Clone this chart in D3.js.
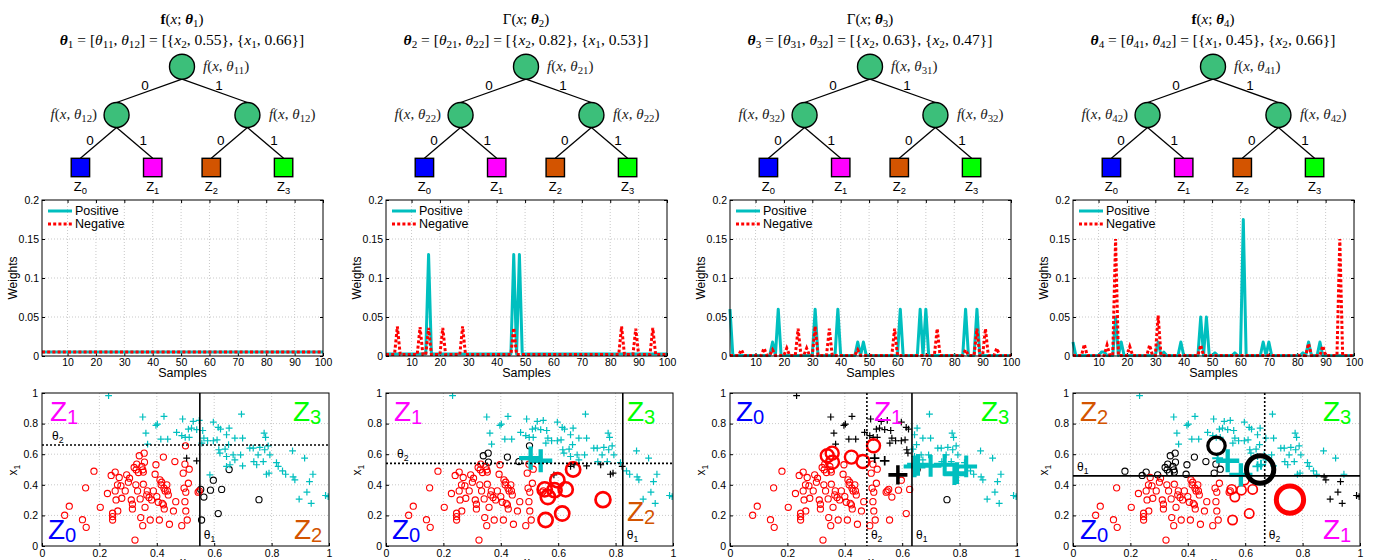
<!DOCTYPE html>
<html>
<head>
<meta charset="utf-8">
<script src="https://cdn.jsdelivr.net/npm/d3@7"></script>
<style>
  body { margin: 0; background: #fff; }
  svg { display: block; }
</style>
</head>
<body>
<script>
// ---- data ----

// tree / titles
const titleHead = ["f", "Γ", "Γ", "f"];
const splitFeat = [["2", "1"], ["2", "1"], ["2", "2"], ["1", "2"]];
const splitVal = [["0.55", "0.66"], ["0.82", "0.53"], ["0.63", "0.47"], ["0.45", "0.66"]];
const leafNames = ["0", "1", "2", "3"];
const leafColors = ["#0000ff", "#ff00ff", "#d35400", "#00ff00"];
const edgeNames = ["0", "1"];

// weights plots
const sampleTicks = [10, 20, 30, 40, 50, 60, 70, 80, 90, 100];
const weightTicks = [0, 0.05, 0.1, 0.15, 0.2];
const weightTickLabels = ["0", "0.05", "0.1", "0.15", "0.2"];
const legendNames = ["Positive", "Negative"];

const posW1 = [
  .005,.005,.005,.005,.005,.005,.005,.005,.005,.005,
  .005,.005,.005,.005,.005,.005,.005,.005,.005,.005,
  .005,.005,.005,.005,.005,.005,.005,.005,.005,.005,
  .005,.005,.005,.005,.005,.005,.005,.005,.005,.005,
  .005,.005,.005,.005,.005,.005,.005,.005,.005,.005,
  .005,.005,.005,.005,.005,.005,.005,.005,.005,.005,
  .005,.005,.005,.005,.005,.005,.005,.005,.005,.005,
  .005,.005,.005,.005,.005,.005,.005,.005,.005,.005,
  .005,.005,.005,.005,.005,.005,.005,.005,.005,.005,
  .005,.005,.005,.005,.005,.005,.005,.005,.005,.005];
const negW1 = [
  .005,.005,.005,.005,.005,.005,.005,.005,.005,.005,
  .005,.005,.005,.005,.005,.005,.005,.005,.005,.005,
  .005,.005,.005,.005,.005,.005,.005,.005,.005,.005,
  .005,.005,.005,.005,.005,.005,.005,.005,.005,.005,
  .005,.005,.005,.005,.005,.005,.005,.005,.005,.005,
  .005,.005,.005,.005,.005,.005,.005,.005,.005,.005,
  .005,.005,.005,.005,.005,.005,.005,.005,.005,.005,
  .005,.005,.005,.005,.005,.005,.005,.005,.005,.005,
  .005,.005,.005,.005,.005,.005,.005,.005,.005,.005,
  .005,.005,.005,.005,.005,.005,.005,.005,.005,.005];

const posW2 = [
  .0025,.0025,.0025,.0025,.0025,.0025,.0025,.0025,.0025,.0025,
  .0025,.0025,.0025,.0025,.0025,.13,.0025,.0025,.0025,.0025,
  .0025,.0025,.0025,.0025,.0025,.0025,.0025,.0025,.0025,.0025,
  .0025,.0025,.0025,.0025,.0025,.0025,.0025,.0025,.0025,.0025,
  .0025,.0025,.0025,.0025,.0025,.13,.0025,.13,.0025,.0025,
  .0025,.0025,.0025,.0025,.0025,.0025,.0025,.0025,.0025,.0025,
  .0025,.0025,.0025,.0025,.0025,.0025,.0025,.0025,.0025,.0025,
  .0025,.0025,.0025,.0025,.0025,.0025,.0025,.0025,.0025,.0025,
  .0025,.0025,.0025,.0025,.0025,.0025,.0025,.0025,.0025,.0025,
  .0025,.0025,.0025,.0025,.0025,.0025,.0025,.0025,.0025,.0025];
const negW2 = [
  .0018,.0018,.0018,.0018,.038,.0018,.0018,.0018,.0018,.0018,
  .0018,.0018,.037,.0018,.0018,.036,.0018,.0018,.0018,.0018,
  .036,.0018,.0018,.0018,.0018,.0018,.0018,.038,.0018,.0018,
  .0018,.0018,.0018,.0018,.0018,.0018,.0018,.0018,.0018,.0018,
  .0018,.0018,.0018,.0018,.0018,.036,.0018,.0018,.0018,.0018,
  .0018,.0018,.0018,.0018,.0018,.0018,.0018,.0018,.0018,.0018,
  .0018,.0018,.0018,.0018,.0018,.0018,.0018,.0018,.0018,.0018,
  .0018,.0018,.0018,.0018,.0018,.0018,.0018,.0018,.0018,.0018,
  .0018,.0018,.0018,.038,.0018,.0018,.0018,.0018,.035,.0018,
  .0018,.0018,.0018,.0018,.036,.0018,.0018,.0018,.0018,.0018];

const posW3 = [
  .06,.0008,.0008,.0008,.0008,.0008,.0008,.0008,.0008,.0008,
  .0008,.0008,.0008,.0008,.0008,.018,.0008,.06,.0008,.0008,
  .0008,.0008,.0008,.0008,.0008,.0008,.0008,.0008,.0008,.0008,
  .06,.0008,.0008,.0008,.0008,.0008,.0008,.0008,.06,.0008,
  .0008,.0008,.0008,.0008,.0008,.018,.0008,.018,.0008,.0008,
  .0008,.0008,.0008,.0008,.0008,.0008,.0008,.0008,.0008,.0008,
  .06,.0008,.0008,.0008,.0008,.0008,.0008,.06,.0008,.06,
  .0008,.0008,.0008,.0008,.0008,.0008,.0008,.0008,.0008,.0008,
  .0008,.0008,.0008,.06,.0008,.0008,.0008,.06,.0008,.0008,
  .0008,.0008,.0008,.0008,.0008,.0008,.0008,.0008,.0008,.0008];
const negW3 = [
  .0008,.0008,.0008,.0008,.008,.0008,.0008,.0008,.0008,.0008,
  .0008,.0008,.010,.0008,.0008,.008,.0008,.0008,.0008,.0008,
  .010,.0008,.0008,.0008,.035,.0008,.0008,.010,.0008,.0008,
  .038,.0008,.0008,.0008,.0008,.035,.0008,.0008,.0008,.0008,
  .0008,.0008,.0008,.0008,.0008,.008,.0008,.0008,.0008,.0008,
  .0008,.0008,.0008,.0008,.0008,.0008,.0008,.0008,.035,.0008,
  .0008,.0008,.0008,.0008,.0008,.0008,.0008,.0008,.0008,.0008,
  .0008,.0008,.0008,.035,.0008,.0008,.0008,.0008,.0008,.0008,
  .0008,.0008,.0008,.008,.0008,.0008,.0008,.035,.0008,.0008,
  .035,.0008,.0008,.0008,.010,.0008,.0008,.0008,.0008,.0008];

const posW4 = [
  .018,.0006,.0006,.0006,.0006,.0006,.0006,.0006,.0006,.0006,
  .005,.005,.0006,.0006,.0006,.05,.0006,.018,.0006,.0006,
  .0006,.0006,.0006,.0006,.0006,.0006,.0006,.0006,.0006,.0006,
  .018,.0006,.005,.0006,.0006,.0006,.0006,.0006,.018,.0006,
  .0006,.0006,.0006,.0006,.0006,.05,.0006,.05,.0006,.0006,
  .004,.0006,.0006,.0006,.0006,.0006,.0006,.004,.0006,.0006,
  .175,.0006,.0006,.0006,.0006,.0006,.0006,.018,.0006,.018,
  .0006,.0006,.0006,.0006,.0006,.0006,.0006,.0006,.0006,.0006,
  .0006,.004,.0006,.018,.0006,.0006,.0006,.018,.0006,.0006,
  .0006,.0006,.0006,.0006,.0006,.0006,.0006,.0006,.0006,.0006];
const negW4 = [
  .0008,.0008,.0008,.0008,.015,.0008,.0008,.0008,.0008,.0008,
  .0008,.0008,.014,.0008,.0008,.15,.0008,.0008,.0008,.0008,
  .012,.0008,.0008,.0008,.0008,.0008,.0008,.014,.0008,.0008,
  .052,.0008,.0008,.0008,.0008,.0008,.0008,.0008,.0008,.0008,
  .0008,.0008,.0008,.0008,.0008,.014,.0008,.0008,.0008,.0008,
  .0008,.0008,.0008,.0008,.0008,.0008,.0008,.0008,.0008,.0008,
  .0008,.0008,.0008,.0008,.0008,.0008,.0008,.0008,.0008,.0008,
  .0008,.0008,.0008,.0008,.0008,.0008,.0008,.0008,.0008,.0008,
  .0008,.0008,.0008,.016,.0008,.0008,.0008,.0008,.013,.0008,
  .0008,.0008,.0008,.0008,.15,.0008,.0008,.0008,.0008,.0008];

// scatter: [x2, x1]
const unitTicks = [0, 0.2, 0.4, 0.6, 0.8, 1];
const unitTickLabels = ["0", "0.2", "0.4", "0.6", "0.8", "1"];

const negPts = [
  [0.652,0.500],[0.597,0.430],[0.553,0.370],[0.564,0.320],[0.587,0.365],
  [0.626,0.370],[0.614,0.212],[0.556,0.170],[0.756,0.303],[0.339,0.590],
  [0.356,0.607],[0.357,0.548],[0.423,0.581],[0.463,0.552],[0.500,0.655],
  [0.079,0.201],[0.095,0.260],[0.141,0.172],[0.154,0.122],[0.152,0.380],
  [0.181,0.489],[0.203,0.253],[0.228,0.343],[0.241,0.461],[0.246,0.214],
  [0.246,0.192],[0.246,0.170],[0.255,0.483],[0.255,0.360],[0.258,0.301],
  [0.263,0.400],[0.264,0.229],[0.269,0.448],[0.275,0.393],[0.278,0.312],
  [0.290,0.360],[0.295,0.465],[0.301,0.417],[0.305,0.443],[0.311,0.301],
  [0.315,0.273],[0.315,0.242],[0.321,0.513],[0.324,0.039],[0.327,0.400],
  [0.328,0.498],[0.330,0.535],[0.333,0.360],[0.336,0.480],[0.342,0.308],
  [0.344,0.186],[0.348,0.520],[0.351,0.498],[0.353,0.404],[0.353,0.483],
  [0.351,0.133],[0.359,0.253],[0.365,0.334],[0.367,0.360],[0.373,0.317],
  [0.377,0.170],[0.382,0.301],[0.388,0.360],[0.394,0.469],[0.397,0.531],
  [0.400,0.323],[0.405,0.286],[0.409,0.170],[0.411,0.432],[0.415,0.400],
  [0.417,0.417],[0.419,0.279],[0.425,0.378],[0.429,0.360],[0.423,0.269],
  [0.426,0.242],[0.435,0.400],[0.437,0.360],[0.440,0.334],[0.444,0.142],
  [0.466,0.290],[0.458,0.229],[0.487,0.133],[0.492,0.476],[0.495,0.378],
  [0.498,0.535],[0.498,0.290],[0.501,0.352],[0.501,0.229],[0.506,0.170],
  [0.510,0.410],[0.513,0.502],[0.548,0.360],[0.544,0.352]];

const posPts = [
  [0.504,0.574],[0.539,0.557],[0.585,0.465],[0.643,0.520],[0.655,0.531],
  [0.699,0.524],[0.748,0.531],[0.782,0.469],[0.791,0.476],[0.823,0.520],
  [0.232,0.983],[0.351,0.843],[0.425,0.847],[0.402,0.797],[0.397,0.788],
  [0.362,0.738],[0.368,0.666],[0.414,0.699],[0.438,0.699],[0.469,0.742],
  [0.490,0.830],[0.487,0.721],[0.499,0.710],[0.513,0.710],[0.527,0.814],
  [0.548,0.821],[0.510,0.764],[0.521,0.771],[0.539,0.760],[0.560,0.755],
  [0.564,0.705],[0.557,0.672],[0.577,0.688],[0.597,0.810],[0.614,0.775],
  [0.622,0.764],[0.610,0.694],[0.597,0.688],[0.616,0.629],[0.620,0.607],
  [0.638,0.633],[0.652,0.771],[0.643,0.727],[0.672,0.705],[0.699,0.705],
  [0.695,0.862],[0.650,0.662],[0.666,0.596],[0.672,0.563],[0.692,0.596],
  [0.724,0.640],[0.736,0.640],[0.759,0.644],[0.774,0.738],[0.779,0.710],
  [0.788,0.655],[0.776,0.629],[0.794,0.596],[0.738,0.552],[0.753,0.596],
  [0.771,0.552],[0.817,0.545],[0.838,0.491],[0.849,0.469],[0.873,0.622],
  [0.875,0.452],[0.881,0.432],[0.915,0.574],[0.944,0.469],[0.932,0.421],
  [0.923,0.352],[0.896,0.306],[0.938,0.279],[0.988,0.330],[0.997,0.323],
  [0.643,0.585]];

// split of each stage: root axis/cut, second axis/cut ("x" = x2 horizontal, "y" = x1 vertical)
const rootAxis = ["x", "x", "x", "y"];
const rootCut = [0.55, 0.825, 0.634, 0.4585];
const subAxis = ["y", "y", "x", "x"];
const subCut = [0.66, 0.54, 0.477, 0.668];
const positiveZones = [[1, 2, 3], [1, 2, 3], [3], [2, 3]];

// relative sample weight of emphasised points: [index, weight]
const bigNeg = [
  [],
  [[0,2.3],[1,2.3],[2,2.3],[3,2.3],[4,2.3],[5,2.3],[6,2.3],[7,2.3],[8,2.4]],
  [[9,2.1],[10,2.1],[11,2.1],[12,2.1],[13,2.1],[14,2.1]],
  [[0,4.4],[14,2.8],[8,4.4],[1,1.5],[2,1.5],[3,1.5],[4,1.5],[5,1.5],[6,1.5],[7,1.5]]];
const bigPos = [
  [],
  [[0,3.4],[1,3.4]],
  [[0,1.4],[1,1.4],[2,2.8],[3,3.2],[4,3.2],[5,3.2],[6,3.2],[7,3.2],[8,3.2],[9,3.2]],
  [[0,1.6],[1,3.4],[2,3.4],[3,1.5],[4,1.5]]];

// ---- layout ----
const colX = [0, 344, 688, 1031];
const PL = 42;
const WW = 281, WT = 200, WB = 356;
const SW = 287, ST = 393, SB = 546;
const CYAN = "#00bfbf", RED = "#ff0000";
const serif = '"Liberation Serif","DejaVu Serif",serif';
const sans = '"Liberation Sans",Arial,sans-serif';

// zone labels: [zone, dx from plot left, baseline y]
const zoneLabelPos = [
  [[1, 8, 421], [3, 251, 421], [0, 6, 539], [2, 252, 539]],
  [[1, 8, 421], [3, 241, 421], [0, 6, 539], [2, 241, 521]],
  [[0, 6, 421], [1, 144, 421], [3, 251, 421]],
  [[2, 7, 421], [3, 250, 421], [0, 7, 539], [1, 250, 539]]];
const hLabelDx = [10, 11, 0, 4];

const svg = d3.select("body").append("svg")
  .attr("width", 1374).attr("height", 560);

// text with subscripts: segs = [[string, kind]] kind: "", "i", "b", "bi", "sub"
function rich(sel, segs, shift) {
  let down = false;
  segs.forEach(([s, k]) => {
    const t = sel.append("tspan").text(s);
    if (k === "sub") {
      t.attr("font-size", "0.72em");
      if (!down) t.attr("dy", shift);
      down = true;
    } else {
      if (down) t.attr("dy", -shift);
      down = false;
      if (k.includes("i")) t.attr("font-style", "italic");
      if (k.includes("b")) t.attr("font-weight", "bold");
    }
  });
  return sel;
}

// tree layout, shared by the four columns
const treeData = {children: [{children: [{leaf: 0}, {leaf: 1}]}, {children: [{leaf: 2}, {leaf: 3}]}]};
const hier = d3.hierarchy(treeData);
d3.tree().nodeSize([72.3, 1]).separation((a, b) => a.parent === b.parent ? 1 : 0.81)(hier);
const depthY = [66.7, 115, 167.5];
const NODE_R = 12.5, LEAF = 18.4;

const weightSets = [[posW1, negW1], [posW2, negW2], [posW3, negW3], [posW4, negW4]];

for (let c = 0; c < 4; c++) {
  const n = c + 1;
  const px = colX[c] + PL;

  // ---------- tree ----------
  const g = svg.append("g").attr("transform", `translate(${colX[c] + 182},0)`);

  rich(g.append("text").attr("x", 0).attr("y", 23.5).attr("text-anchor", "middle")
      .attr("font-family", serif).attr("font-size", 15),
    [[titleHead[c], titleHead[c] === "f" ? "b" : ""], ["(", ""], ["x", "i"], ["; ", ""],
     ["θ", "bi"], [String(n), "sub"], [")", ""]], 3);

  rich(g.append("text").attr("x", 0).attr("y", 44.5).attr("text-anchor", "middle")
      .attr("font-family", serif).attr("font-size", 15.5),
    [["θ", "bi"], [String(n), "sub"], [" = [", ""], ["θ", "i"], [n + "1", "sub"], [", ", ""],
     ["θ", "i"], [n + "2", "sub"], ["] = [{", ""], ["x", "i"], [splitFeat[c][0], "sub"],
     [", " + splitVal[c][0] + "}, {", ""], ["x", "i"], [splitFeat[c][1], "sub"],
     [", " + splitVal[c][1] + "}]", ""]], 3);

  const ny = d => depthY[d.depth];
  hier.links().forEach(l => {
    const s = l.source, t = l.target;
    const y1 = ny(s) + NODE_R;
    const y2 = t.children ? ny(t) - NODE_R : ny(t) - LEAF / 2;
    g.append("line").attr("x1", s.x).attr("y1", y1).attr("x2", t.x).attr("y2", y2)
      .attr("stroke", "#000").attr("stroke-width", 1.3);
    const side = t.x < s.x ? -1 : 1;
    const k = s.children.indexOf(t);
    const dx = t.depth === 1 ? 4.3 : 8.5, dy = t.depth === 1 ? -6 : -3;
    g.append("text")
      .attr("x", (s.x + t.x) / 2 + side * dx)
      .attr("y", (y1 + y2) / 2 + dy + 4.8)
      .attr("text-anchor", "middle").attr("font-family", sans).attr("font-size", 13.5)
      .text(edgeNames[k]);
  });

  hier.descendants().filter(d => d.children).forEach(d => {
    g.append("circle").attr("cx", d.x).attr("cy", ny(d)).attr("r", NODE_R)
      .attr("fill", "#3cbf7a").attr("stroke", "#000").attr("stroke-width", 1.4);
    const right = d.depth === 0 || d.x > 0;
    const lbl = g.append("text")
      .attr("x", right ? d.x + (d.depth === 0 ? 21 : 21.5) : d.x - 19.5)
      .attr("y", ny(d) + 4)
      .attr("text-anchor", right ? "start" : "end")
      .attr("font-family", serif).attr("font-size", 15).attr("fill", "#222");
    rich(lbl, [["f", "i"], ["(", ""], ["x", "i"], [", ", ""], ["θ", "i"],
      [n + String(d.depth + 1), "sub"], [")", ""]], 3);
  });

  hier.leaves().forEach(d => {
    g.append("rect").attr("x", d.x - LEAF / 2).attr("y", ny(d) - LEAF / 2)
      .attr("width", LEAF).attr("height", LEAF)
      .attr("fill", leafColors[d.data.leaf]).attr("stroke", "#000").attr("stroke-width", 1.4);
    rich(g.append("text").attr("x", d.x).attr("y", 191).attr("text-anchor", "middle")
        .attr("font-family", sans).attr("font-size", 13),
      [["Z", ""], [leafNames[d.data.leaf], "sub"]], 3);
  });

  // ---------- weights plot ----------
  const xW = d3.scaleLinear().domain([1, 100]).range([px, px + WW]);
  const yW = d3.scaleLinear().domain([0, 0.2]).range([WB, WT]);
  const wg = svg.append("g");

  wg.append("g").selectAll("line").data(sampleTicks.filter(v => v < 100)).join("line")
    .attr("x1", d => xW(d)).attr("x2", d => xW(d)).attr("y1", WT).attr("y2", WB)
    .attr("stroke", "#bbb").attr("stroke-width", 0.8).attr("stroke-dasharray", "1,2");
  wg.append("g").selectAll("line").data(weightTicks.filter(v => v > 0 && v < 0.2)).join("line")
    .attr("x1", px).attr("x2", px + WW).attr("y1", d => yW(d)).attr("y2", d => yW(d))
    .attr("stroke", "#bbb").attr("stroke-width", 0.8).attr("stroke-dasharray", "1,2");

  const ax = (sel) => { sel.select(".domain").remove();
    sel.selectAll("text").attr("font-family", sans).attr("font-size", 10.5).attr("fill", "#000");
    sel.selectAll("line").attr("stroke", "#000"); };

  wg.append("g").attr("transform", `translate(0,${WB})`)
    .call(d3.axisBottom(xW).tickValues(sampleTicks).tickSizeInner(-3).tickSizeOuter(0).tickPadding(3))
    .call(ax);
  wg.append("g").attr("transform", `translate(0,${WT})`)
    .call(d3.axisTop(xW).tickValues(sampleTicks).tickSizeInner(-3).tickSizeOuter(0).tickFormat(""))
    .call(ax);
  wg.append("g").attr("transform", `translate(${px},0)`)
    .call(d3.axisLeft(yW).tickValues(weightTicks).tickFormat((d, i) => weightTickLabels[i])
      .tickSizeInner(-3).tickSizeOuter(0).tickPadding(3))
    .call(ax);
  wg.append("g").attr("transform", `translate(${px + WW},0)`)
    .call(d3.axisRight(yW).tickValues(weightTicks).tickFormat("").tickSizeInner(-3).tickSizeOuter(0))
    .call(ax);

  const line = d3.line().x((d, i) => xW(i + 1)).y(d => yW(d));
  const [pw, nw] = weightSets[c];
  wg.append("path").datum(pw).attr("d", line).attr("fill", "none")
    .attr("stroke", CYAN).attr("stroke-width", 3).attr("stroke-linejoin", "round");
  wg.append("path").datum(nw).attr("d", line).attr("fill", "none")
    .attr("stroke", RED).attr("stroke-width", 3).attr("stroke-dasharray", "3,2.2");

  wg.append("rect").attr("x", px).attr("y", WT).attr("width", WW).attr("height", WB - WT)
    .attr("fill", "none").attr("stroke", "#000").attr("stroke-width", 1);

  // legend
  legendNames.forEach((nm, i) => {
    const ly = 211 + i * 13;
    wg.append("line").attr("x1", px + 6).attr("x2", px + 30).attr("y1", ly).attr("y2", ly)
      .attr("stroke", i ? RED : CYAN).attr("stroke-width", 3)
      .attr("stroke-dasharray", i ? "3,2.2" : null);
    wg.append("text").attr("x", px + 33).attr("y", ly + 4.3)
      .attr("font-family", sans).attr("font-size", 12.5).text(nm);
  });

  wg.append("text").attr("transform", `translate(${colX[c] + 17},278) rotate(-90)`)
    .attr("text-anchor", "middle").attr("font-family", sans).attr("font-size", 12).text("Weights");
  wg.append("text").attr("x", px + WW / 2).attr("y", 377)
    .attr("text-anchor", "middle").attr("font-family", sans).attr("font-size", 12.5).text("Samples");

  // ---------- scatter ----------
  const xS = d3.scaleLinear().domain([0, 1]).range([px, px + SW]);
  const yS = d3.scaleLinear().domain([0, 1]).range([SB, ST]);
  const sg = svg.append("g");

  sg.append("g").selectAll("line").data(unitTicks.slice(1, -1)).join("line")
    .attr("x1", d => xS(d)).attr("x2", d => xS(d)).attr("y1", ST).attr("y2", SB)
    .attr("stroke", "#bbb").attr("stroke-width", 0.8).attr("stroke-dasharray", "1,2");
  sg.append("g").selectAll("line").data(unitTicks.slice(1, -1)).join("line")
    .attr("x1", px).attr("x2", px + SW).attr("y1", d => yS(d)).attr("y2", d => yS(d))
    .attr("stroke", "#bbb").attr("stroke-width", 0.8).attr("stroke-dasharray", "1,2");

  sg.append("g").attr("transform", `translate(0,${SB})`)
    .call(d3.axisBottom(xS).tickValues(unitTicks).tickFormat((d, i) => unitTickLabels[i])
      .tickSizeInner(-3).tickSizeOuter(0).tickPadding(4))
    .call(ax);
  sg.append("g").attr("transform", `translate(${px},0)`)
    .call(d3.axisLeft(yS).tickValues(unitTicks).tickFormat((d, i) => unitTickLabels[i])
      .tickSizeInner(-3).tickSizeOuter(0).tickPadding(4))
    .call(ax);

  const clipId = "clip" + c;
  svg.append("clipPath").attr("id", clipId).append("rect")
    .attr("x", px).attr("y", ST).attr("width", SW).attr("height", SB - ST);

  const zoneOf = p => {
    const v = a => a === "x" ? p[0] : p[1];
    return 2 * (v(rootAxis[c]) > rootCut[c] ? 1 : 0) + (v(subAxis[c]) > subCut[c] ? 1 : 0);
  };
  const posZone = p => positiveZones[c].includes(zoneOf(p));

  const marks = [];
  negPts.forEach((p, i) => marks.push({neg: true, p, w: 1, i}));
  posPts.forEach((p, i) => marks.push({neg: false, p, w: 1, i}));
  bigNeg[c].forEach(([i, w]) => { marks[i].w = w; });
  bigPos[c].forEach(([i, w]) => { marks[negPts.length + i].w = w; });
  marks.sort((a, b) => a.w - b.w);

  const mg = sg.append("g").attr("clip-path", `url(#${clipId})`);
  marks.forEach(m => {
    const x = xS(m.p[0]), y = yS(m.p[1]);
    const predictedPos = posZone(m.p);
    if (m.neg) {
      mg.append("circle").attr("cx", x).attr("cy", y).attr("r", 3.1 * m.w)
        .attr("fill", "none").attr("stroke", predictedPos ? "#000" : RED)
        .attr("stroke-width", Math.min(5, 1.1 + 1.2 * (m.w - 1)));
    } else {
      const a = 3.4 * m.w;
      mg.append("path").attr("d", `M${x - a},${y}H${x + a}M${x},${y - a}V${y + a}`)
        .attr("stroke", predictedPos ? CYAN : "#000")
        .attr("stroke-width", Math.min(5, 1.2 + 1.3 * (m.w - 1)));
    }
  });

  // split lines
  const cutLine = (axis, v, dashed) => {
    const l = sg.append("line").attr("stroke", "#000").attr("stroke-width", 1.6);
    if (axis === "x") l.attr("x1", xS(v)).attr("x2", xS(v)).attr("y1", ST).attr("y2", SB);
    else l.attr("x1", px).attr("x2", px + SW).attr("y1", yS(v)).attr("y2", yS(v));
    if (dashed) l.attr("stroke-dasharray", "2,2");
  };
  cutLine(rootAxis[c], rootCut[c], false);
  cutLine(subAxis[c], subCut[c], true);

  const cutLabel = (axis, v, k) => {
    const t = sg.append("text").attr("font-family", sans).attr("font-size", 12);
    if (axis === "x") t.attr("x", xS(v) + 4).attr("y", 539);
    else t.attr("x", px + hLabelDx[c]).attr("y", yS(v) - 5);
    rich(t, [["θ", ""], [String(k), "sub"]], 3);
  };
  cutLabel(rootAxis[c], rootCut[c], 1);
  cutLabel(subAxis[c], subCut[c], 2);

  zoneLabelPos[c].forEach(([z, dx, by]) => {
    rich(sg.append("text").attr("x", px + dx).attr("y", by)
        .attr("font-family", sans).attr("font-size", 28).attr("fill", leafColors[z]),
      [["Z", ""], [leafNames[z], "sub"]], 3);
  });

  sg.append("rect").attr("x", px).attr("y", ST).attr("width", SW).attr("height", SB - ST)
    .attr("fill", "none").attr("stroke", "#000").attr("stroke-width", 1);

  rich(sg.append("text").attr("transform", `translate(${colX[c] + 17},470) rotate(-90)`)
      .attr("text-anchor", "middle").attr("font-family", sans).attr("font-size", 12),
    [["x", ""], ["1", "sub"]], 3);
  rich(sg.append("text").attr("x", px + SW / 2).attr("y", 566)
      .attr("text-anchor", "middle").attr("font-family", sans).attr("font-size", 12),
    [["x", ""], ["2", "sub"]], 3);
}
</script>
</body>
</html>
